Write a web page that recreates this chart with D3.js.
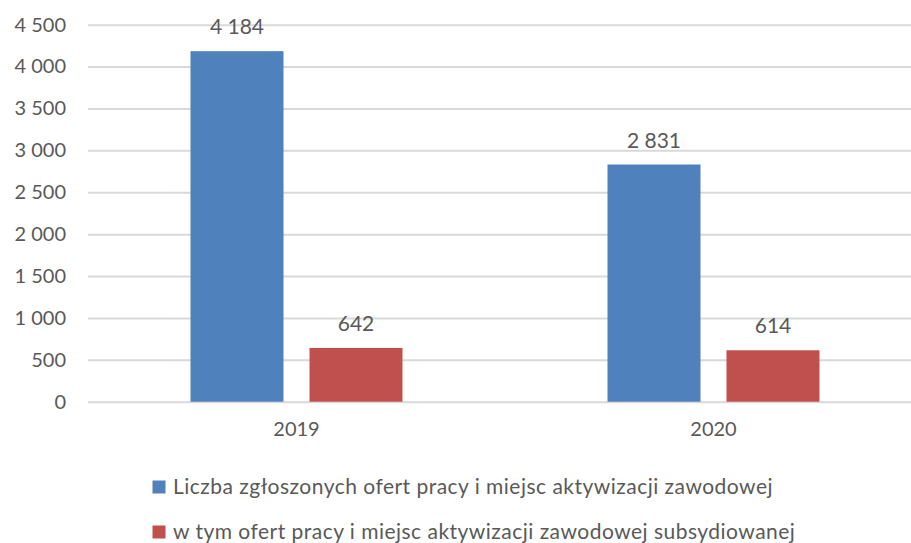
<!DOCTYPE html>
<html><head><meta charset="utf-8">
<script src="https://cdn.jsdelivr.net/npm/d3@7"></script>
<style>body{margin:0;background:#fff}svg{display:block}text{font-family:Lato,"Open Sans",sans-serif;fill:#595959}</style>
</head><body><svg id="c" width="911" height="543"></svg>
<script>
const categories = ["2019", "2020"];
const seriesNames = ["Liczba zgłoszonych ofert pracy i miejsc aktywizacji zawodowej", "w tym ofert pracy i miejsc aktywizacji zawodowej subsydiowanej"];
const seriesTotal = [4184, 2831];
const seriesSubsidised = [642, 614];
const yTicks = [0, 500, 1000, 1500, 2000, 2500, 3000, 3500, 4000, 4500];
const colors = ["#4f81bd", "#c0504d"];

const svg = d3.select("#c");
const x0 = 88, x1 = 922, yTop = 24.7, yBot = 401.7;
const fmt = v => d3.format(",")(v).replace(/,/g, " ");

const x = d3.scaleBand().domain(categories).range([x0, x1]).paddingInner(0).paddingOuter(0);
const y = d3.scaleLinear().domain([0, 4500]).range([yBot, yTop]);
const series = [seriesTotal, seriesSubsidised];
const barW = 93, gap = 26;
const half = barW + gap / 2;
const xs = d3.scaleBand().domain([0, 1]).range([x.bandwidth()/2 - half, x.bandwidth()/2 + half]).paddingInner(gap/(barW+gap)).paddingOuter(0);

// grid
const yAxis = d3.axisLeft(y).tickValues(yTicks).tickSize(-(x1 - x0)).tickFormat(fmt).tickPadding(22);
const ga = svg.append("g").attr("transform", `translate(${x0},0)`).call(yAxis);
ga.select(".domain").remove();
ga.selectAll(".tick line").attr("stroke", "#d9d9d9").attr("stroke-width", 2);
ga.selectAll(".tick text").attr("font-size", 20).style("fill", "#595959");

// bars
categories.forEach((c, ci) => {
  series.forEach((s, si) => {
    const bx = x(c) + xs(si);
    svg.append("rect").attr("x", bx).attr("y", y(s[ci])).attr("width", xs.bandwidth()).attr("height", y(0) - y(s[ci])).attr("fill", colors[si]);
    svg.append("text").attr("x", bx + xs.bandwidth()/2).attr("y", y(s[ci]) - 17).attr("text-anchor", "middle").attr("font-size", 21).text(fmt(s[ci]));
  });
});

// x axis labels
const xAxis = d3.axisBottom(x).tickSize(0).tickPadding(20);
const gx = svg.append("g").attr("transform", `translate(0,${yBot})`).call(xAxis);
gx.select(".domain").remove();
gx.selectAll(".tick text").attr("font-size", 20).style("fill", "#595959");

// legend
const legY = [487, 532];
seriesNames.forEach((n, i) => {
  svg.append("rect").attr("x", 152.5).attr("y", legY[i] - 6.5).attr("width", 13).attr("height", 13).attr("fill", colors[i]);
  svg.append("text").attr("x", 173).attr("y", legY[i]).attr("dy", "0.35em").attr("font-size", 21).attr("letter-spacing", 0.48).text(n);
});
</script></body></html>
